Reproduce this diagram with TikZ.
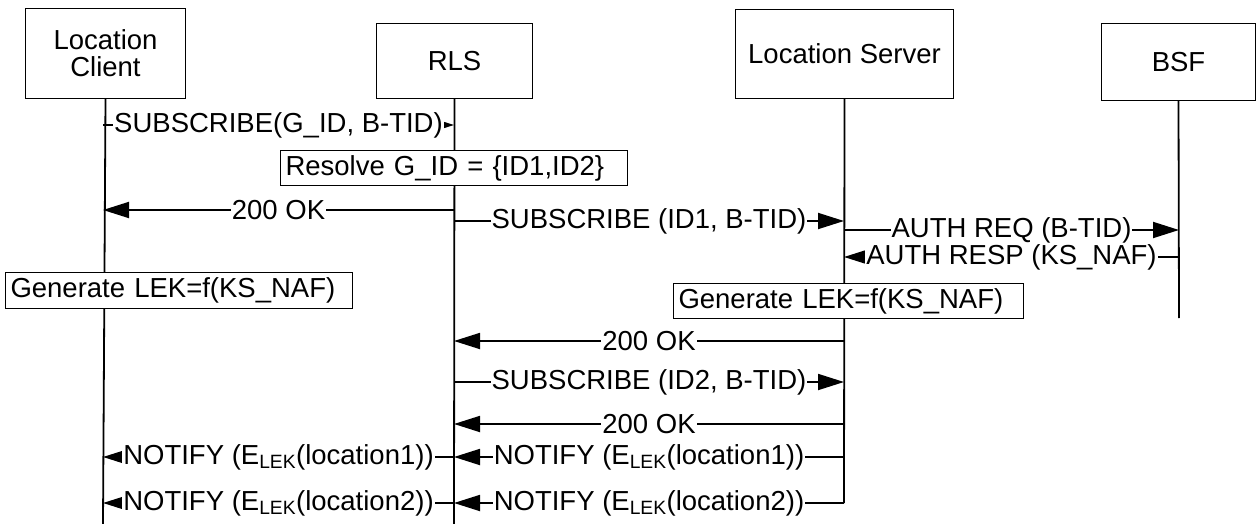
\documentclass[tikz,border=0pt]{standalone}
\usepackage{fontspec}
\setmainfont{Liberation Sans}
\usetikzlibrary{arrows.meta}
\begin{document}
\begin{tikzpicture}[x=1pt,y=-1pt,
  txt/.style={font=\fontsize{27.5}{28}\selectfont},
  actor/.style={draw, line width=1pt, txt, align=center, inner sep=0pt},
  life/.style={line width=1.8pt},
  msg/.style={line width=1.8pt, -{Triangle[length=26pt,width=16pt]}},
  lbl/.style={fill=white, txt, inner xsep=1pt, inner ysep=0pt},
  note/.style={draw, fill=white, line width=1pt, txt, anchor=north west, align=left, inner xsep=5pt, inner ysep=0pt}]
\useasboundingbox (0,0) rectangle (1256,524);
% actors
\node[actor, minimum width=160, minimum height=90, anchor=north west] (lc) at (25,8) {Location\\[-1pt]Client};
\node[actor, minimum width=156, minimum height=75, anchor=north west] (rls) at (376,23) {RLS};
\node[actor, minimum width=218, minimum height=89, anchor=north west] (ls) at (735,9) {Location Server};
\node[actor, minimum width=154, minimum height=77, anchor=north west] (bsf) at (1101,23) {BSF};
% lifeline ends
\coordinate (lcE) at (103,524);
\coordinate (rlsE) at (454,524);
\coordinate (lsE) at (844,503);
\coordinate (bsfE) at (1179,318);
\draw[life] (lc.south) -- (lcE);
\draw[life] (rls.south) -- (rlsE);
\draw[life] (ls.south) -- (lsE);
\draw[life] (bsf.south) -- (bsfE);
% message anchor points
\foreach \n/\y in {1/125,2/210,3/221,8/341,9/382,10/424,11/457,12/503}{
  \coordinate (lc\n) at (103,\y);
  \coordinate (rls\n) at (454,\y);
  \coordinate (ls\n) at (844,\y);
}
\foreach \n/\y in {5/230,6/257}{
  \coordinate (ls\n) at (844,\y);
  \coordinate (bsf\n) at (1179,\y);
}
% messages
\draw[msg] (lc1) -- node[lbl] {SUBSCRIBE(G\_ID, B-TID)} (rls1);
\node[note, text width=337, minimum height=35] (res) at (280,150) {Resolve G\_ID = \{ID1,ID2\}};
\draw[msg] (rls2) -- node[lbl] {200 OK} (lc2);
\draw[msg] (rls3) -- node[lbl] {SUBSCRIBE (ID1, B-TID)} (ls3);
\draw[msg] (ls5) -- node[lbl] {AUTH REQ (B-TID)} (bsf5);
\draw[msg] (bsf6) -- node[lbl] {AUTH RESP (KS\_NAF)} (ls6);
\node[note, text width=337, minimum height=36] (gen1) at (5,272) {Generate LEK=f(KS\_NAF)};
\node[note, text width=340, minimum height=35] (gen2) at (673,283) {Generate LEK=f(KS\_NAF)};
\draw[msg] (ls8) -- node[lbl] {200 OK} (rls8);
\draw[msg] (rls9) -- node[lbl] {SUBSCRIBE (ID2, B-TID)} (ls9);
\draw[msg] (ls10) -- node[lbl] {200 OK} (rls10);
\draw[msg] (ls11) -- node[lbl] {NOTIFY (E\textsubscript{LEK}(location1))} (rls11);
\draw[msg] (rls11) -- node[lbl] {NOTIFY (E\textsubscript{LEK}(location1))} (lc11);
\draw[msg] (ls12) -- node[lbl] {NOTIFY (E\textsubscript{LEK}(location2))} (rls12);
\draw[msg] (rls12) -- node[lbl] {NOTIFY (E\textsubscript{LEK}(location2))} (lc12);
\end{tikzpicture}
\end{document}
